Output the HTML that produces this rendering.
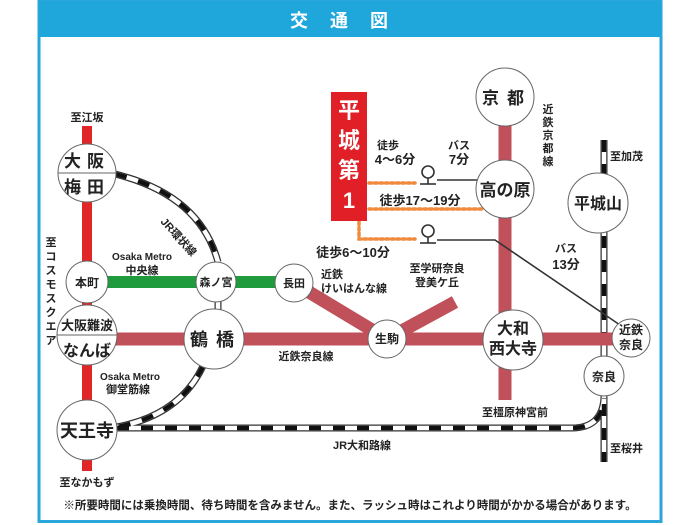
<!DOCTYPE html>
<html><head><meta charset="utf-8"><style>
html,body{margin:0;padding:0;background:#fff;}
svg{display:block;}
text{font-family:"Liberation Sans","Noto Sans CJK JP",sans-serif;fill:#222;}
</style></head><body>
<svg width="700" height="525" viewBox="0 0 700 525" xmlns="http://www.w3.org/2000/svg">
<rect x="0" y="0" width="700" height="525" fill="#fff"/>
<rect x="39" y="1.5" width="622" height="520" fill="#fff" stroke="#2aa6da" stroke-width="3"/>
<rect x="39" y="1" width="622" height="36" fill="#1fa7dc"/>
<text x="350" y="27" font-size="18" font-weight="bold" text-anchor="middle" style="fill:#fff" letter-spacing="22">交通図</text>

<g fill="none">
<path id="p1" d="M115,174 Q200,195 218,262"/>
<path id="p2" d="M218,300 L218,312"/>
<path id="p3" d="M203,366 Q180,415 117,427"/>
<path id="p4" d="M117,428 L572,428 Q602,428 604,398"/>
<path id="p5" d="M604,140 L604,462"/>
</g>
<g fill="none" stroke="#333" stroke-width="7">
<use href="#p1"/><use href="#p2"/><use href="#p3"/><use href="#p4"/><use href="#p5"/>
</g>
<g fill="none" stroke="#fff" stroke-width="4.5">
<use href="#p1"/><use href="#p2"/><use href="#p3"/><use href="#p4"/><use href="#p5"/>
</g>
<g fill="none" stroke="#111" stroke-width="4.5" stroke-dasharray="12 12">
<use href="#p1"/><use href="#p3"/><use href="#p4"/><use href="#p5"/>
</g>

<rect x="82" y="126" width="10" height="345" fill="#e02626"/>
<rect x="87" y="276" width="207" height="12" fill="#1f9a3c"/>
<g stroke="#c0505a" stroke-width="13" fill="none">
<line x1="87" y1="339" x2="640" y2="339"/>
<line x1="505" y1="97" x2="505" y2="400"/>
<line x1="294" y1="283" x2="387" y2="339"/>
<line x1="387" y1="339" x2="455" y2="302"/>
</g>

<g stroke="#333" stroke-width="1.6" fill="none">
<line x1="437" y1="180" x2="478" y2="180"/>
<polyline points="437,240 495,240 620,325"/>
</g>
<g stroke="#f08a3c" stroke-width="3.5" stroke-dasharray="2.5 3" fill="none" stroke-linecap="round">
<line x1="369" y1="183" x2="415" y2="183"/>
<line x1="369" y1="209" x2="483" y2="209"/>
<polyline points="359,222 359,239 415,239"/>
</g>
<g stroke="#333" stroke-width="1.6" fill="#fff">
<circle cx="428" cy="172" r="6"/><line x1="428" y1="178" x2="428" y2="184"/><line x1="420" y1="184" x2="436" y2="184"/>
<circle cx="428" cy="231" r="6"/><line x1="428" y1="237" x2="428" y2="243"/><line x1="420" y1="243" x2="436" y2="243"/>
</g>

<rect x="331" y="92" width="36" height="129" fill="#e01f26"/>
<g font-size="22" font-weight="bold" text-anchor="middle">
<text x="349" y="118" style="fill:#fff">平</text>
<text x="349" y="148" style="fill:#fff">城</text>
<text x="349" y="178" style="fill:#fff">第</text>
<text x="349" y="208" style="fill:#fff">1</text>
</g>

<g fill="#fff" stroke="#666" stroke-width="1">
<circle cx="87" cy="173" r="29"/>
<circle cx="87" cy="282" r="21"/>
<circle cx="87" cy="335" r="30"/>
<circle cx="87" cy="430" r="30"/>
<circle cx="216" cy="282" r="20"/>
<circle cx="294" cy="283" r="19"/>
<circle cx="214" cy="339" r="30"/>
<circle cx="387" cy="339" r="19"/>
<circle cx="513" cy="340" r="30"/>
<circle cx="631" cy="338" r="19"/>
<circle cx="604" cy="376" r="20"/>
<circle cx="505" cy="97" r="29"/>
<circle cx="505" cy="189" r="29"/>
<circle cx="598" cy="203" r="30"/>
</g>
<line x1="58" y1="173" x2="116" y2="173" stroke="#666"/>
<line x1="57" y1="335" x2="117" y2="335" stroke="#666"/>

<g text-anchor="middle" font-weight="bold">
<text x="87" y="167" font-size="17" letter-spacing="6">大阪</text>
<text x="87" y="193" font-size="17" letter-spacing="6">梅田</text>
<text x="87" y="287" font-size="12">本町</text>
<text x="87" y="330" font-size="13">大阪難波</text>
<text x="87" y="356" font-size="16">なんば</text>
<text x="87" y="437" font-size="18">天王寺</text>
<text x="216" y="286" font-size="11">森ノ宮</text>
<text x="294" y="287" font-size="11">長田</text>
<text x="216" y="346" font-size="18" letter-spacing="8">鶴橋</text>
<text x="387" y="343" font-size="12">生駒</text>
<text x="513" y="334" font-size="16">大和</text>
<text x="513" y="354" font-size="16">西大寺</text>
<text x="631" y="334" font-size="12">近鉄</text>
<text x="631" y="349" font-size="12">奈良</text>
<text x="604" y="381" font-size="12">奈良</text>
<text x="507" y="104" font-size="17" letter-spacing="8">京都</text>
<text x="505" y="196" font-size="17">高の原</text>
<text x="598" y="209" font-size="16">平城山</text>
</g>

<g font-size="11" font-weight="bold">
<text x="87" y="121" text-anchor="middle">至江坂</text>
<text x="87" y="486" text-anchor="middle">至なかもず</text>
<text x="142" y="260" text-anchor="middle" font-size="10">Osaka Metro</text>
<text x="142" y="274" text-anchor="middle">中央線</text>
<text x="130" y="380" text-anchor="middle" font-size="10">Osaka Metro</text>
<text x="128" y="393" text-anchor="middle">御堂筋線</text>
<text x="306" y="360" text-anchor="middle">近鉄奈良線</text>
<text x="362" y="449" text-anchor="middle">JR大和路線</text>
<text x="515" y="416" text-anchor="middle">至橿原神宮前</text>
<text x="610" y="452">至桜井</text>
<text x="610" y="160">至加茂</text>
<text x="321" y="278">近鉄</text>
<text x="321" y="292">けいはんな線</text>
<text x="437" y="272" text-anchor="middle">至学研奈良</text>
<text x="437" y="286" text-anchor="middle">登美ケ丘</text>
<text x="566" y="252" text-anchor="middle">バス</text>
<text x="566" y="269" text-anchor="middle" font-size="13">13分</text>
<text x="388" y="149" text-anchor="middle">徒歩</text>
<text x="395" y="164" text-anchor="middle" font-size="13">4〜6分</text>
<text x="459" y="149" text-anchor="middle">バス</text>
<text x="459" y="164" text-anchor="middle" font-size="13">7分</text>
<text x="420" y="205" text-anchor="middle" font-size="13">徒歩17〜19分</text>
<text x="353" y="257" text-anchor="middle" font-size="13">徒歩6〜10分</text>
<text x="160" y="222" font-size="11" transform="rotate(48 160 222)">JR環状線</text>
<text x="548" y="113" text-anchor="middle">近</text>
<text x="548" y="126" text-anchor="middle">鉄</text>
<text x="548" y="139" text-anchor="middle">京</text>
<text x="548" y="152" text-anchor="middle">都</text>
<text x="548" y="165" text-anchor="middle">線</text>
<text x="51" y="246" text-anchor="middle">至</text>
<text x="51" y="260" text-anchor="middle">コ</text>
<text x="51" y="274" text-anchor="middle">ス</text>
<text x="51" y="288" text-anchor="middle">モ</text>
<text x="51" y="302" text-anchor="middle">ス</text>
<text x="51" y="316" text-anchor="middle">ク</text>
<text x="51" y="330" text-anchor="middle">エ</text>
<text x="51" y="344" text-anchor="middle">ア</text>
<text x="350" y="509" text-anchor="middle" font-size="11.5">※所要時間には乗換時間、待ち時間を含みません。また、ラッシュ時はこれより時間がかかる場合があります。</text>
</g>
</svg>
</body></html>
